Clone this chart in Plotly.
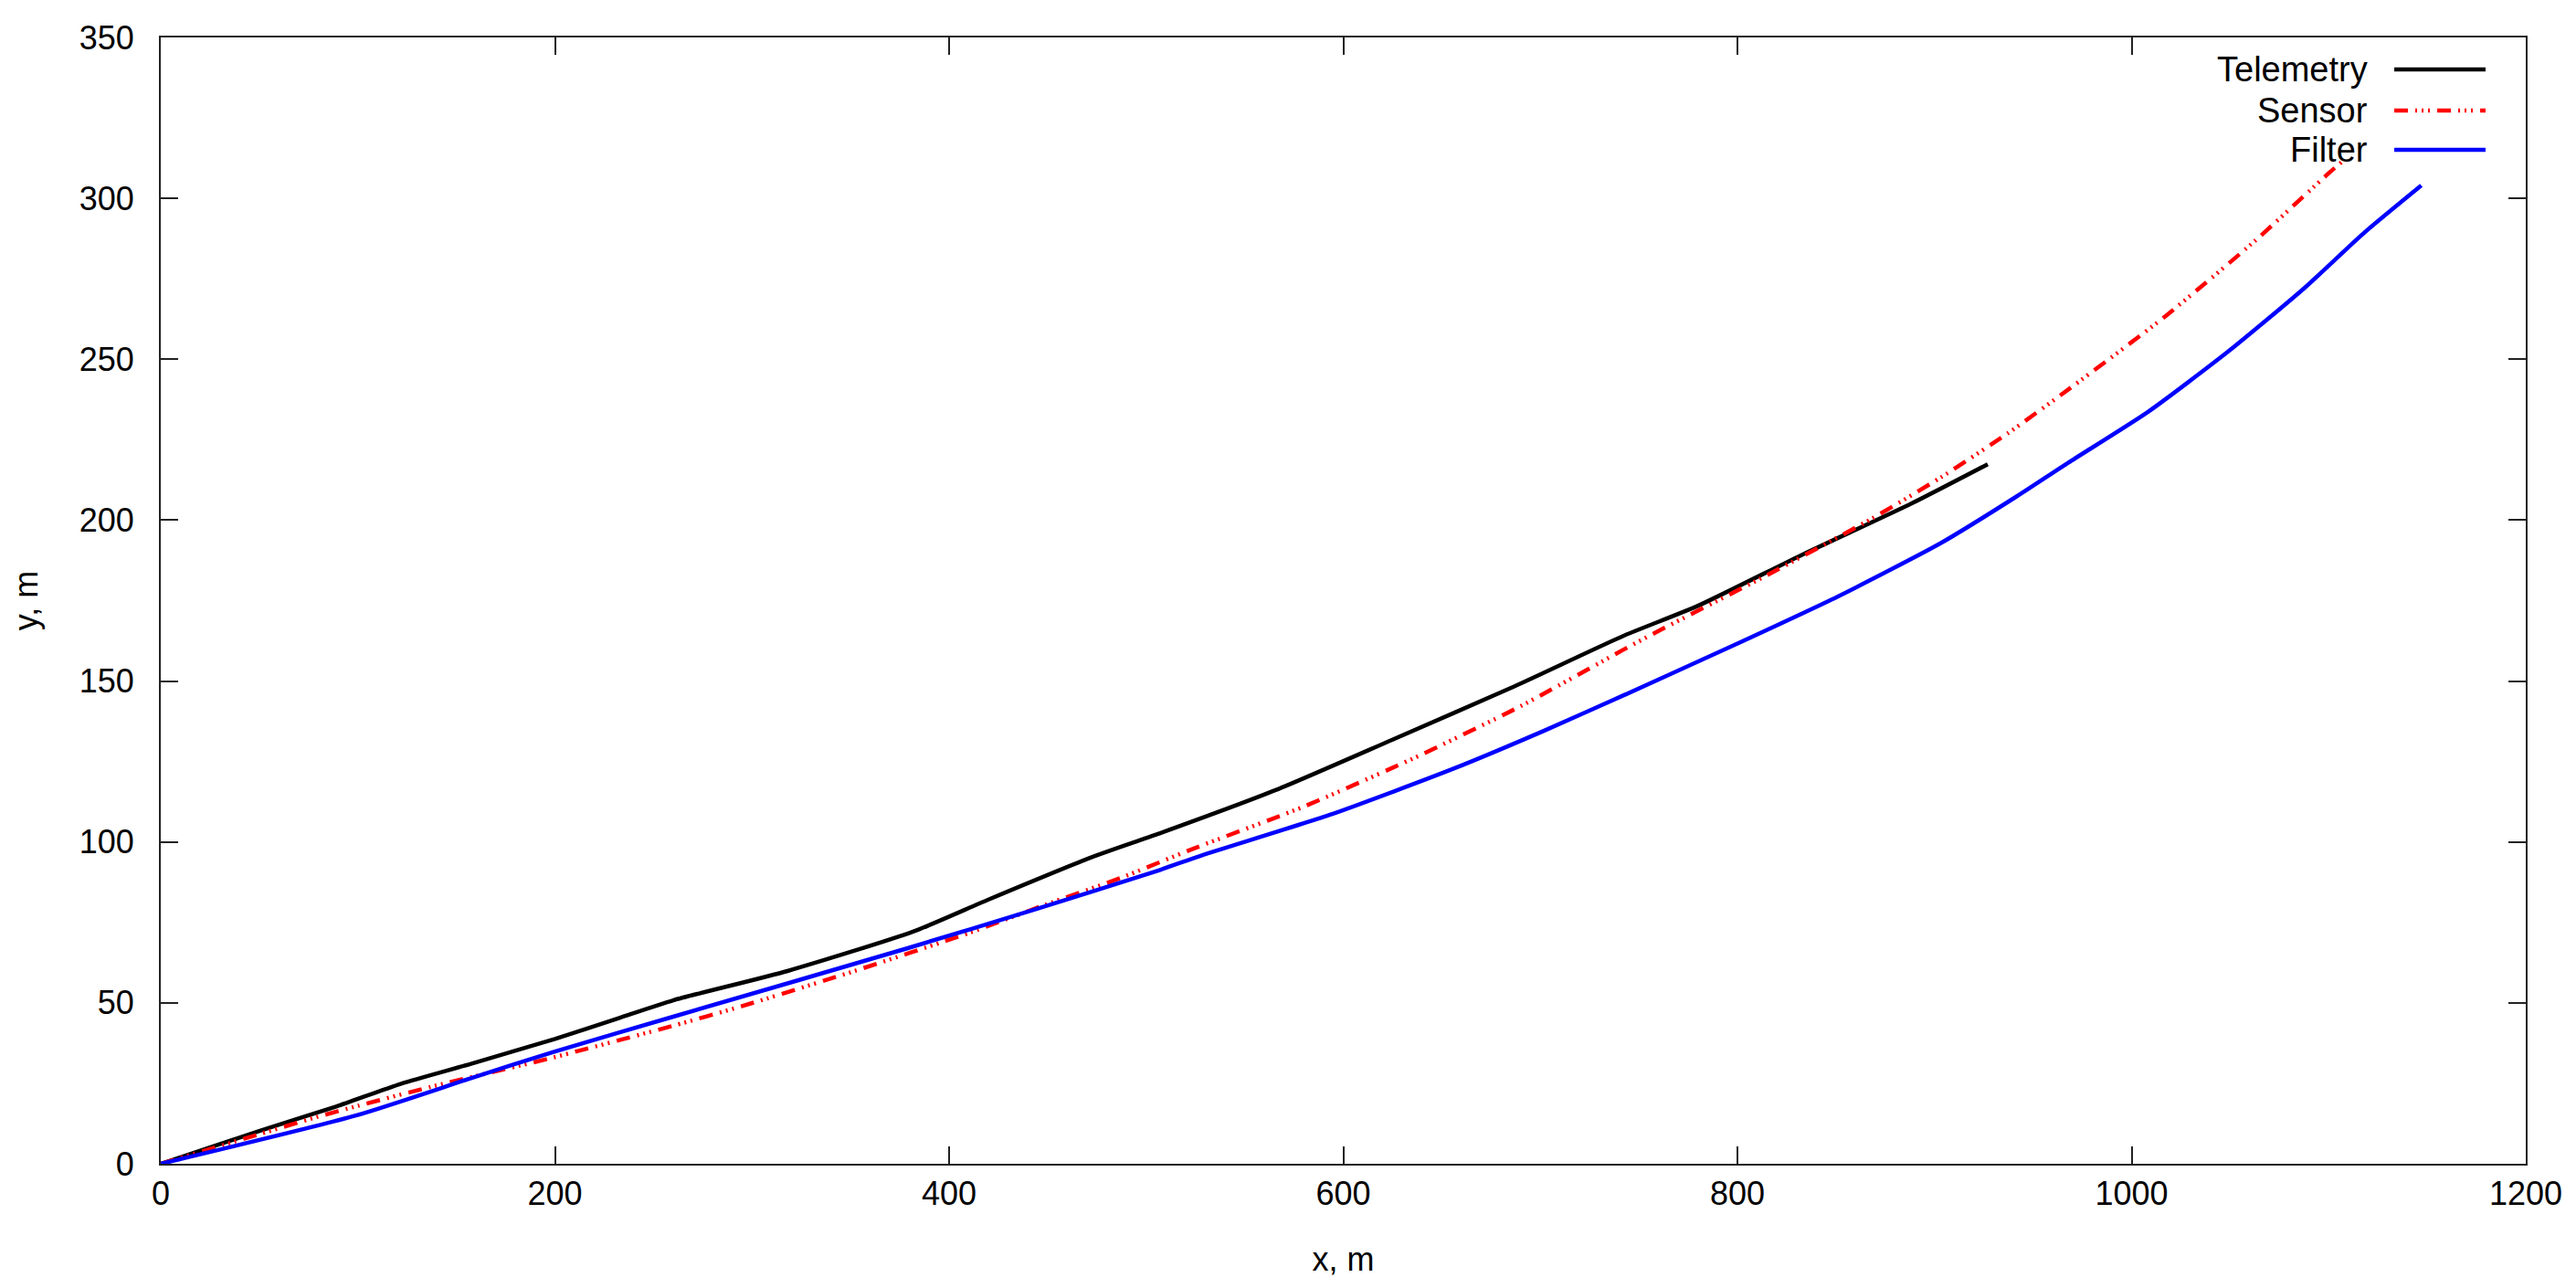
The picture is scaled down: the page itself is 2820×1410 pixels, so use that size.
import plotly.graph_objects as go

# ---- data ----
telemetry_x = [0, 50, 89, 122, 157, 200, 232, 260, 318, 382, 420, 473, 506, 566, 625, 687, 742, 780, 832, 888, 927]
telemetry_y = [0, 10.2, 17.8, 24.9, 31.0, 38.8, 45.2, 50.8, 59.9, 72.2, 82.1, 95.4, 102.5, 116.2, 131.8, 148.4, 164.0, 173.4, 189.0, 205.1, 217.4]

sensor_x = [0, 50, 79, 100, 137, 197, 260, 295, 352, 410, 448, 487, 523, 580, 636, 690, 742, 761, 815, 868, 903, 937, 969, 1017, 1063, 1100, 1108]
sensor_y = [0, 9.2, 14.5, 18.0, 23.9, 32.7, 42.9, 49.0, 59.9, 71.7, 80.3, 88.8, 97.7, 111.0, 126.1, 142.2, 159.7, 165.9, 182.9, 200.4, 213.2, 226.9, 241.1, 263.3, 287.0, 307.8, 312.0]

filter_x = [0, 99, 157, 200, 260, 379, 445, 506, 528, 594, 656, 702, 742, 798, 851, 903, 942, 968, 1008, 1049, 1088, 1118, 1147]
filter_y = [0, 15.0, 26.5, 34.9, 45.7, 67.0, 79.3, 91.1, 95.8, 108.6, 122.8, 134.6, 145.5, 161.1, 176.3, 192.8, 207.5, 217.9, 233.5, 252.4, 272.3, 289.3, 304.0]

series_names = ["Telemetry", "Sensor", "Filter"]
x_ticks = [0, 200, 400, 600, 800, 1000, 1200]
y_ticks = [0, 50, 100, 150, 200, 250, 300, 350]

FONT = "Liberation Sans, Arial, sans-serif"
SENSOR_DASH = "15px,8px,2px,5px,2px,5px,2px,8px"
styles = [
    dict(color="#000000", width=4.5, dash="solid"),
    dict(color="#ff0000", width=4.5, dash=SENSOR_DASH),
    dict(color="#0000ff", width=4.5, dash="solid"),
]

fig = go.Figure()
for name, xs, ys, st in zip(series_names,
                            [telemetry_x, sensor_x, filter_x],
                            [telemetry_y, sensor_y, filter_y],
                            styles):
    fig.add_trace(go.Scatter(x=xs, y=ys, mode="lines", name=name,
                             line=dict(color=st["color"], width=st["width"], dash=st["dash"],
                                       shape="spline", smoothing=0.6),
                             showlegend=False))

axis_common = dict(
    showgrid=False, zeroline=False,
    showline=True, linecolor="#222222", linewidth=2,
    mirror="allticks", ticks="inside", ticklen=19, tickwidth=2, tickcolor="#222222",
    tickfont=dict(family=FONT, size=36, color="#000000"),
)

fig.update_xaxes(range=[0, 1200], tickvals=x_ticks, ticktext=[str(v) for v in x_ticks],
                 ticklabelstandoff=0,
                 title=dict(text="x, m", font=dict(family=FONT, size=36, color="#000000"), standoff=40),
                 **axis_common)
fig.update_yaxes(range=[0, 350], tickvals=y_ticks, ticktext=[str(v) for v in y_ticks],
                 ticklabelstandoff=20,
                 title=dict(text="y, m", font=dict(family=FONT, size=36, color="#000000"), standoff=42),
                 **axis_common)

# legend drawn gnuplot-style: text right-aligned, sample line to its right
legend_rows_y = [0.9716, 0.9351, 0.9002]
for name, st, yy in zip(series_names, styles, legend_rows_y):
    fig.add_annotation(xref="paper", yref="paper", x=0.9340, y=yy, text=name,
                       showarrow=False, xanchor="right", yanchor="middle",
                       font=dict(family=FONT, size=38, color="#000000"))
    fig.add_shape(type="line", xref="paper", yref="paper",
                  x0=0.9444, x1=0.9830, y0=yy, y1=yy,
                  line=dict(color=st["color"], width=st["width"], dash=st["dash"]))

fig.update_layout(
    width=2820, height=1410,
    margin=dict(l=168, r=63, t=33, b=144, autoexpand=False),
    paper_bgcolor="white", plot_bgcolor="white",
    font=dict(family=FONT, size=36, color="#000000"),
)

fig.write_html("out.html")
